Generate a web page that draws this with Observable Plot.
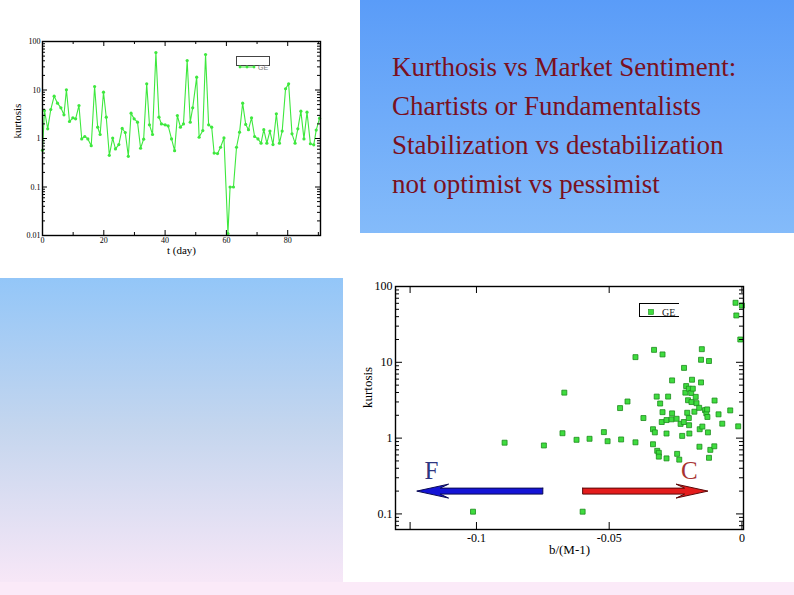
<!DOCTYPE html>
<html><head><meta charset="utf-8">
<script src="https://cdn.jsdelivr.net/npm/d3@7"></script>
<script src="https://cdn.jsdelivr.net/npm/@observablehq/plot@0.6"></script>
<style>
body{margin:0;background:#fff;}
#slide{position:relative;width:794px;height:595px;overflow:hidden;background:#fff;font-family:"Liberation Serif",serif;}
.abs{position:absolute;}
#tr{left:360px;top:0;width:434px;height:233px;background:linear-gradient(#5a9cf8,#84bbfa);}
#bl{left:0;top:278px;width:343px;height:304px;background:linear-gradient(#93c6f8,#c5d6ee 50%,#f7e7f7);}
#strip{left:0;top:582px;width:794px;height:13px;background:#fbeaf8;}
#title{left:392px;top:48px;color:#7a1020;font-size:27px;line-height:39px;white-space:nowrap;}
#leg1{left:236px;top:56px;width:32px;height:8px;border:1px solid #444;background:#fff;}
#leg2{left:639px;top:303px;width:39px;height:12px;border:1.3px solid #000;border-right:none;background:#fff;}
</style></head>
<body>
<div id="slide">
  <div id="tr" class="abs"></div>
  <div id="bl" class="abs"></div>
  <div id="strip" class="abs"></div>
  <div id="title" class="abs">Kurthosis vs Market Sentiment:<br>Chartists or Fundamentalists<br>Stabilization vs destabilization<br>not optimist vs pessimist</div>
  <div id="p1" class="abs" style="left:0;top:0;"></div>
  <div id="p2" class="abs" style="left:343px;top:278px;"></div>
  <div id="leg1" class="abs"><svg width="32" height="8"><line x1="3" y1="4" x2="17" y2="4" stroke="#3ee83e" stroke-width="1"/><circle cx="3" cy="4" r="1.4" fill="#3ee83e"/><circle cx="10" cy="4" r="1.4" fill="#3ee83e"/><circle cx="17" cy="4" r="1.4" fill="#3ee83e"/><text x="21" y="6.5" font-size="7" fill="#777" font-family="Liberation Sans">GE</text></svg></div>
  <div id="leg2" class="abs"><svg width="39" height="12"><rect x="8.5" y="3.5" width="5" height="5" fill="#3fdc3f" stroke="#1c8c1c" stroke-width="0.6"/><text x="22" y="10" font-size="10" fill="#222" font-family="Liberation Serif">GE</text></svg></div>
</div>
<script>
// ---- Top chart: kurtosis vs time (GE) ----
const tDay = [0,0.65,1.7,2.7,3.8,4.9,6,7,7.8,8.8,9.9,10.8,11.9,12.8,13.8,14.8,15.9,17,18,18.8,19.9,20.8,21.8,22.9,23.8,24.9,26,27,28,28.9,29.9,31,32,33,34,34.9,35.9,37,38,38.8,40,41,42.1,43.1,44,45,46,47.2,48.2,49,50.3,51.1,52.3,53.2,54.2,55.2,56,57.1,58.1,59.2,60.5,61.2,62.3,63.3,64.3,65.3,66.3,67.2,68.2,69.2,70.3,71.3,72.2,73.2,74.2,75.2,76.3,77.3,78.2,79.3,80.3,81.4,82.4,83.3,84.3,85.3,86.3,87.4,88.5,89.3,90.4];
const kurtT = [0.57,3.78,1.58,3.96,7.46,5.36,4.29,3.08,10.1,2.24,2.67,2.54,4.79,0.98,1.1,0.98,0.71,11.8,1.71,1.21,9.0,2.75,0.45,1.02,0.61,0.75,1.61,1.33,0.43,3.33,2.54,2.17,0.63,0.97,13.4,1.91,1.21,59,2.75,2.0,1.91,1.82,0.98,0.56,2.98,1.71,2.0,40.5,2.17,4.29,18.4,1.06,1.46,54,1.91,1.71,0.5,0.49,0.66,1.03,0.011,0.1,0.1,0.66,1.35,5.36,1.95,1.52,2.67,1.1,0.98,0.8,1.52,0.8,1.42,0.75,3.23,0.8,1.42,10.6,13.4,1.25,0.8,1.58,3.66,0.98,3.49,0.78,0.74,1.49,2.62];
const yTicks1 = [0.01,0.1,1,10,100];
const xTicks1 = [0,20,40,60,80];
const xMinor1 = [10,30,50,70,90];

// ---- Bottom chart: kurtosis vs b/(M-1) (GE) ----
const geX = [-0.1013,-0.0894,-0.0746,-0.0669,-0.0676,-0.0623,-0.06,-0.0574,-0.052,-0.0506,-0.0459,-0.0455,-0.0431,-0.0401,-0.0401,-0.0371,-0.0331,-0.0321,-0.0308,-0.0299,-0.0299,-0.0335,-0.0328,-0.0302,-0.0284,-0.0335,-0.0319,-0.0313,-0.0313,-0.0284,-0.0284,-0.0278,-0.0263,-0.0263,-0.0265,-0.0246,-0.0244,-0.0236,-0.0231,-0.0225,-0.0219,-0.0218,-0.0213,-0.021,-0.0206,-0.0203,-0.02,-0.02,-0.0199,-0.0198,-0.0191,-0.0188,-0.019,-0.0185,-0.0179,-0.0174,-0.0171,-0.0161,-0.0159,-0.016,-0.0154,-0.0154,-0.0151,-0.0149,-0.0139,-0.0134,-0.0131,-0.013,-0.0128,-0.0124,-0.0124,-0.0119,-0.0104,-0.0103,-0.0088,-0.0074,-0.0044,-0.0024,0,-0.0021,-0.0006,-0.0014];
const geK = [0.107,0.87,0.80,3.98,1.16,0.95,0.107,0.98,1.2,0.91,2.49,0.96,3.04,11.7,0.88,1.84,14.6,3.53,2.86,12.7,2.2,1.31,1.19,1.63,1.73,0.83,0.68,0.64,0.57,0.54,1.15,3.53,5.77,2.12,1.77,1.80,0.62,0.52,1.54,1.07,1.63,8.44,3.98,4.86,2.16,3.16,4.49,1.84,1.48,1.15,3.94,5.89,2.99,4.49,2.23,3.5,2.89,2.51,1.31,0.77,5.43,10.8,14.9,1.42,2.34,2.12,2.39,1.9,1.19,10.4,0.55,0.70,0.78,3.13,2.06,1.55,2.32,61,56,41.5,20,1.43];
const yTicks2 = [0.1,1,10,100];
const xTicks2 = [-0.125,-0.1,-0.05,0];
const xLabels2 = [-0.1,-0.05,0];
const arrowFrom = [-0.075,-0.06];
const arrowTo = [-0.1225,-0.0128];
const arrowLevel = 0.2;
const sideLetters = ["F","C"];
const sideX = [-0.117,-0.0198];
const sideK = 0.37;

function logMinor(lo, hi){
  const out=[];
  for(let e=Math.floor(Math.log10(lo)); e<=Math.ceil(Math.log10(hi)); e++)
    for(let m=2;m<=9;m++){const v=m*Math.pow(10,e); if(v>lo && v<hi) out.push(v);}
  return out;
}
function frameTicks(xMaj, xMin, yMaj, yMin, fw, fh, L, l){
  return [
    Plot.tickY(yMaj,{y:d=>d,insetRight:fw-L,stroke:"#000"}),
    Plot.tickY(yMaj,{y:d=>d,insetLeft:fw-L,stroke:"#000"}),
    Plot.tickY(yMin,{y:d=>d,insetRight:fw-l,stroke:"#000"}),
    Plot.tickY(yMin,{y:d=>d,insetLeft:fw-l,stroke:"#000"}),
    Plot.tickX(xMaj,{x:d=>d,insetTop:fh-L,stroke:"#000"}),
    Plot.tickX(xMaj,{x:d=>d,insetBottom:fh-L,stroke:"#000"}),
    Plot.tickX(xMin,{x:d=>d,insetTop:fh-l,stroke:"#000"}),
    Plot.tickX(xMin,{x:d=>d,insetBottom:fh-l,stroke:"#000"})
  ];
}

// top plot
{
  const W=330,H=262,ml=42,mr=10,mt=41,mb=27;
  const fw=W-ml-mr, fh=H-mt-mb;
  const series = tDay.map((t,i)=>({t,k:kurtT[i]}));
  const p = Plot.plot({
    width:W,height:H,marginLeft:ml,marginRight:mr,marginTop:mt,marginBottom:mb,
    style:{fontFamily:"Liberation Serif",fontSize:"8px",background:"transparent",color:"#000",overflow:"visible"},
    x:{domain:[0,90.7]},
    y:{type:"log",domain:[0.01,100]},
    marks:[
      Plot.line(series,{x:"t",y:"k",stroke:"#3ee83e",strokeWidth:1.1}),
      Plot.dot(series,{x:"t",y:"k",r:1.6,fill:"#3ee83e"}),
      ...frameTicks(xTicks1,xMinor1,yTicks1,logMinor(0.01,100),fw,fh,5,3),
      Plot.frame({stroke:"#000",strokeWidth:1.4}),
      Plot.axisY(yTicks1,{tickSize:0,tickPadding:2,tickFormat:d=>String(d),label:null,fontSize:8,fill:"#000"}),
      Plot.axisX(xTicks1,{tickSize:0,tickPadding:2,tickFormat:d=>String(d),label:null,fontSize:8,fill:"#000"}),
      Plot.text(["kurtosis"],{text:d=>d,frameAnchor:"left",dx:-25,rotate:-90,fontSize:11,fill:"#000"}),
      Plot.text(["t (day)"],{text:d=>d,frameAnchor:"bottom",dy:18,fontSize:11,fill:"#000"})
    ]
  });
  document.getElementById("p1").appendChild(p);
}

// bottom plot
{
  const W=451,H=304,ml=52,mr=51,mt=8,mb=53;
  const fw=W-ml-mr, fh=H-mt-mb;
  const pts = geX.map((x,i)=>({x,k:geK[i]}));
  const s=1.095, h=1.236;
  const arrows = arrowFrom.map((from,i)=>{
    const to=arrowTo[i], dir=Math.sign(from-to), y=arrowLevel;
    return [
      {x:from,y:y*s},{x:to+dir*0.0088,y:y*s},{x:to+dir*0.012,y:y*h},{x:to,y:y},
      {x:to+dir*0.012,y:y/h},{x:to+dir*0.0088,y:y/s},{x:from,y:y/s},{x:from,y:y*s}
    ];
  });
  const letters = sideLetters.map((t,i)=>({t,x:sideX[i],y:sideK}));
  const p = Plot.plot({
    width:W,height:H,marginLeft:ml,marginRight:mr,marginTop:mt,marginBottom:mb,
    style:{fontFamily:"Liberation Serif",fontSize:"12px",background:"transparent",color:"#000",overflow:"visible"},
    x:{domain:[-0.1305,0.0006]},
    y:{type:"log",domain:[0.0623,100]},
    marks:[
      Plot.dot(pts,{x:"x",y:"k",symbol:"square",r:2.8,fill:"#3fdc3f",stroke:"#1c8c1c",strokeWidth:0.8}),
      Plot.line(arrows[0],{x:"x",y:"y",fill:"#1414d6",stroke:"#0a0a55",strokeWidth:1}),
      Plot.line(arrows[1],{x:"x",y:"y",fill:"#e41c1c",stroke:"#5a0808",strokeWidth:1}),
      Plot.text(letters.slice(0,1),{x:"x",y:"y",text:"t",fontSize:25,fill:"#2e3580"}),
      Plot.text(letters.slice(1),{x:"x",y:"y",text:"t",fontSize:25,fill:"#a83232"}),
      ...frameTicks(xTicks2,[],yTicks2,logMinor(0.0623,100),fw,fh,7,4),
      Plot.frame({stroke:"#000",strokeWidth:1.4}),
      Plot.axisY(yTicks2,{tickSize:0,tickPadding:3,tickFormat:d=>String(d),label:null,fontSize:12,fill:"#000"}),
      Plot.axisX(xLabels2,{tickSize:0,tickPadding:4,tickFormat:d=>String(d),label:null,fontSize:12,fill:"#000"}),
      Plot.text(["kurtosis"],{text:d=>d,frameAnchor:"left",dx:-28,rotate:-90,fontSize:13,fill:"#000"}),
      Plot.text(["b/(M-1)"],{text:d=>d,frameAnchor:"bottom",dy:24,fontSize:13,fill:"#000"})
    ]
  });
  document.getElementById("p2").appendChild(p);
}
</script>
</body></html>
